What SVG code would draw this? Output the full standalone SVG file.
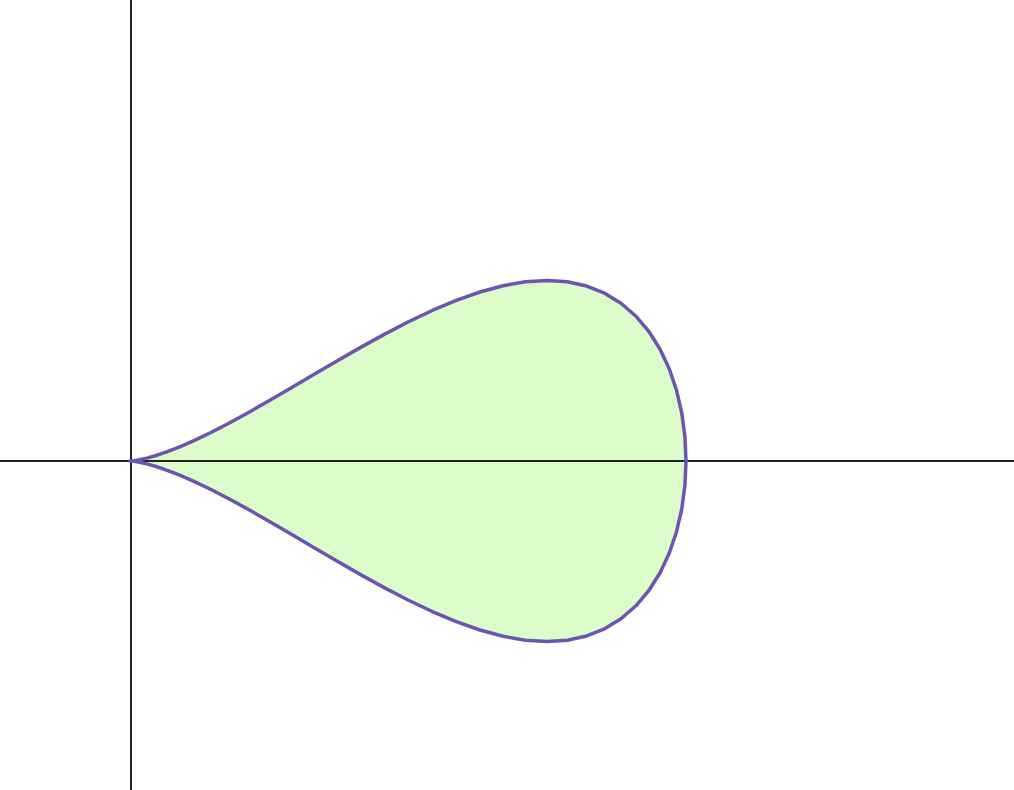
<svg xmlns="http://www.w3.org/2000/svg" width="1014" height="790" viewBox="0 0 1014 790">
<style>
.fill{fill:#dcfdc9;stroke:none}
.curve{fill:none;stroke:#6b55b3;stroke-width:3.5;stroke-linejoin:round}
.axis{stroke:#222;stroke-width:2;fill:none}
</style>
<defs>
<path id="tear" d="M130,461 L131.06,460.95 L134.22,460.63 L139.47,459.77 L146.77,458.13 L156.05,455.5 L167.25,451.69 L180.28,446.58 L195.04,440.1 L211.42,432.21 L229.31,422.96 L248.55,412.45 L269,400.81 L290.51,388.26 L312.92,375.06 L336.05,361.49 L359.73,347.88 L383.77,334.6 L408,322 L432.23,310.46 L456.27,300.34 L479.95,291.99 L503.08,285.71 L525.49,281.78 L547,280.43 L567.45,281.83 L586.69,286.08 L604.58,293.21 L620.96,303.21 L635.72,315.96 L648.75,331.31 L659.95,349.02 L669.23,368.79 L676.53,390.27 L681.78,413.09 L684.94,436.82 L686,461 L684.94,485.18 L681.78,508.91 L676.53,531.73 L669.23,553.21 L659.95,572.98 L648.75,590.69 L635.72,606.04 L620.96,618.79 L604.58,628.79 L586.69,635.92 L567.45,640.17 L547,641.57 L525.49,640.22 L503.08,636.29 L479.95,630.01 L456.27,621.66 L432.23,611.54 L408,600 L383.77,587.4 L359.73,574.12 L336.05,560.51 L312.92,546.94 L290.51,533.74 L269,521.19 L248.55,509.55 L229.31,499.04 L211.42,489.79 L195.04,481.9 L180.28,475.42 L167.25,470.31 L156.05,466.5 L146.77,463.87 L139.47,462.23 L134.22,461.37 L131.06,461.05 Z"/>
</defs>
<rect width="1014" height="790" fill="#ffffff"/>
<g id="shape-fill"><use href="#tear" class="fill"/></g>
<g id="axes">
<line class="axis" x1="0" y1="461" x2="1014" y2="461"/>
<line class="axis" x1="131" y1="0" x2="131" y2="790"/>
</g>
<g id="teardrop"><use href="#tear" class="curve"/></g>
</svg>
